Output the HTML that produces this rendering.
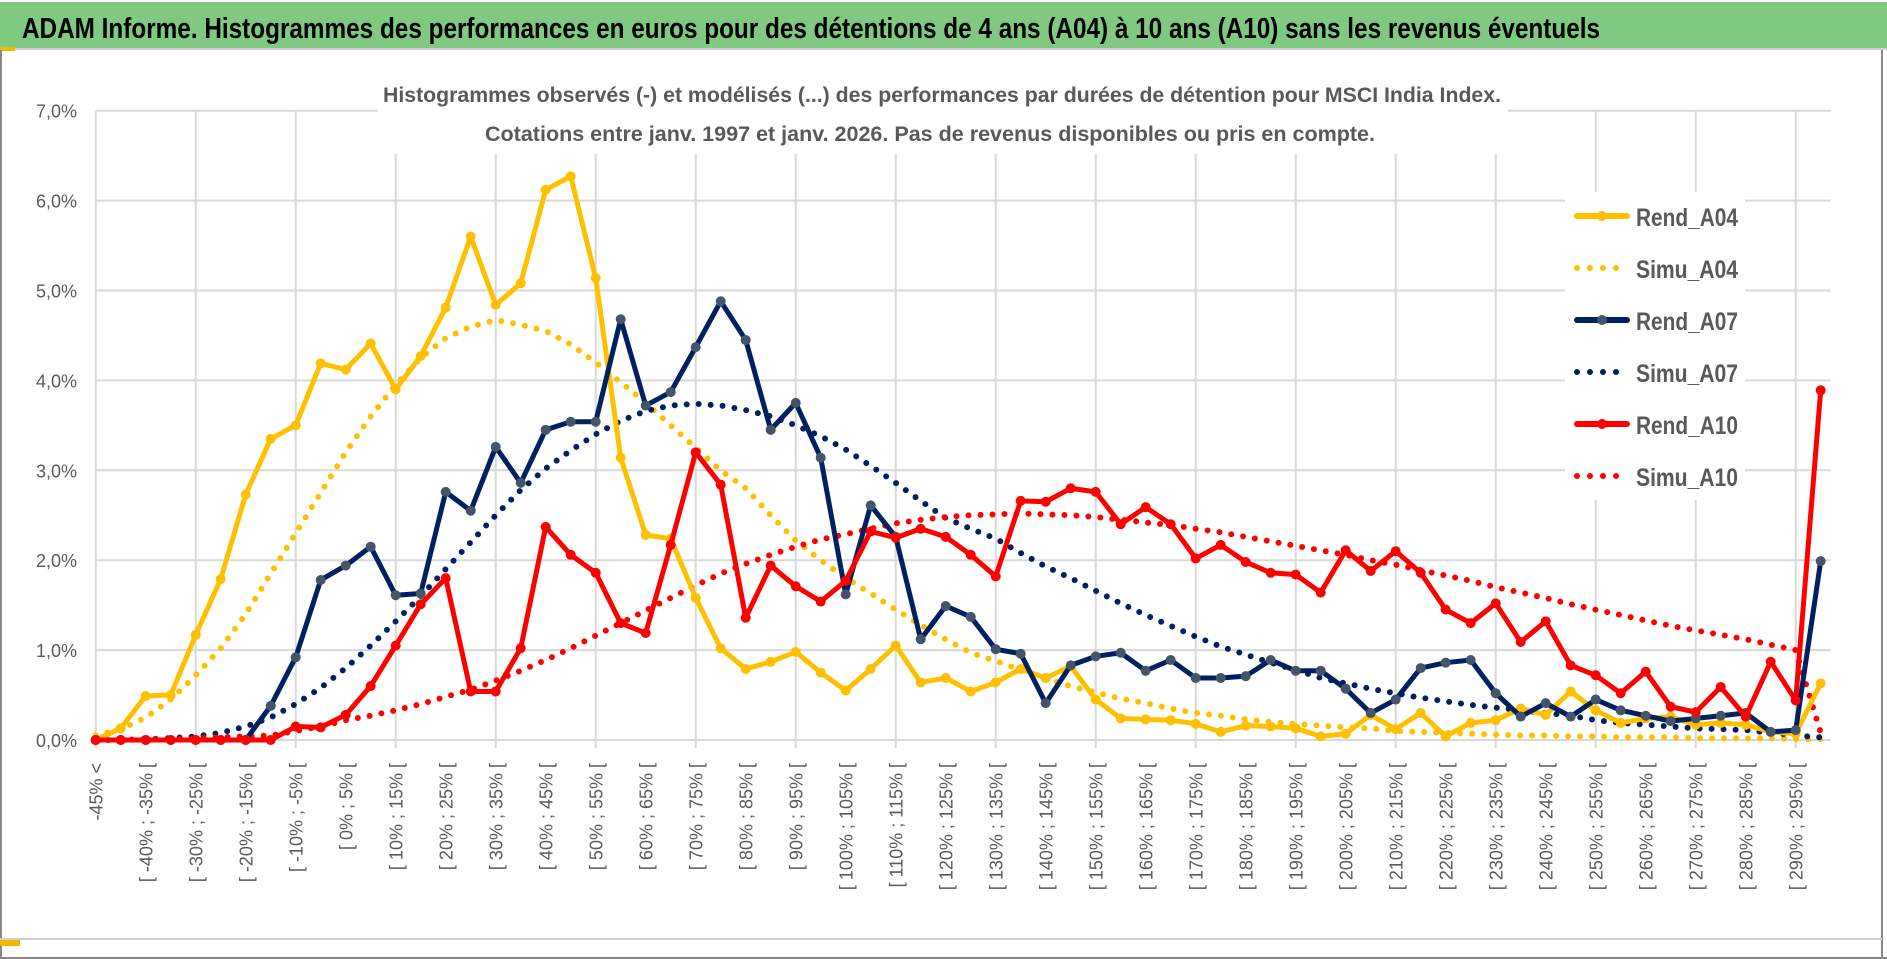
<!DOCTYPE html>
<html><head><meta charset="utf-8"><style>
html,body{margin:0;padding:0;background:#fff;}
svg{display:block;font-family:"Liberation Sans",sans-serif;}
</style></head><body>
<svg id="chart" width="1887" height="959" viewBox="0 0 1887 959" xmlns="http://www.w3.org/2000/svg">
<rect x="0" y="0" width="1887" height="959" fill="#fff"/>
<rect x="0" y="2" width="1887" height="46" fill="#80c980"/>
<line x1="0" y1="49" x2="1887" y2="49" stroke="#d0d0d0" stroke-width="2"/>
<rect x="0" y="47" width="15" height="4" fill="#f5b800"/>
<text x="22" y="38" font-size="29" font-weight="bold" fill="#000" textLength="1578" lengthAdjust="spacingAndGlyphs">ADAM Informe. Histogrammes des performances en euros pour des détentions de 4 ans (A04) à 10 ans (A10) sans les revenus éventuels</text>
<rect x="0" y="50" width="2" height="909" fill="#888"/>
<rect x="1881" y="50" width="2" height="909" fill="#888"/>
<line x1="0" y1="939" x2="1882" y2="939" stroke="#d0d0d0" stroke-width="2"/>
<rect x="0" y="940" width="20" height="6" fill="#f5b800"/>
<rect x="0" y="957" width="1887" height="2" fill="#888"/>
<g id="grid"></g>
<g id="yticks"></g>
<g id="xticks"></g>
<rect x="378" y="76" width="1130" height="78" fill="#fff"/>
<text x="942" y="102" font-size="21" font-weight="bold" fill="#595959" text-anchor="middle" textLength="1118" lengthAdjust="spacingAndGlyphs">Histogrammes observés (-) et modélisés (...) des performances par durées de détention pour MSCI India Index.</text>
<text x="930" y="141" font-size="21" font-weight="bold" fill="#595959" text-anchor="middle" textLength="890" lengthAdjust="spacingAndGlyphs">Cotations entre janv. 1997 et janv. 2026. Pas de revenus disponibles ou pris en compte.</text>
<rect x="1565" y="192" width="180" height="308" fill="#fff"/>
<g id="series"></g>
<g id="legend"></g>
</svg>
<script>
const categories = (function(){const a=["-45% <"];for(let k=1;k<70;k++){a.push("[ "+(-50+5*k)+"% ; "+(-45+5*k)+"% [");}return a;})();
const yTickValues = [0,1,2,3,4,5,6,7];
const yTickLabels = ["0,0%","1,0%","2,0%","3,0%","4,0%","5,0%","6,0%","7,0%"];
const rendA04 = [0,0.13,0.49,0.5,1.17,1.79,2.73,3.35,3.5,4.19,4.12,4.41,3.9,4.27,4.81,5.6,4.84,5.08,6.12,6.27,5.14,3.14,2.28,2.24,1.58,1.02,0.79,0.87,0.98,0.75,0.55,0.79,1.05,0.64,0.69,0.54,0.64,0.79,0.69,0.82,0.45,0.24,0.23,0.22,0.18,0.09,0.16,0.15,0.13,0.04,0.07,0.28,0.12,0.3,0.04,0.19,0.22,0.35,0.28,0.54,0.33,0.19,0.24,0.26,0.17,0.19,0.17,0.09,0.07,0.63];
const simuA04 = [0.05,0.12,0.25,0.45,0.72,1.02,1.4,1.85,2.3,2.75,3.2,3.6,3.95,4.25,4.47,4.6,4.67,4.62,4.55,4.4,4.2,3.98,3.75,3.5,3.25,3.0,2.8,2.5,2.22,2.0,1.8,1.63,1.45,1.28,1.12,0.97,0.88,0.78,0.68,0.6,0.53,0.46,0.41,0.35,0.3,0.27,0.23,0.2,0.18,0.16,0.14,0.13,0.1,0.09,0.08,0.07,0.06,0.05,0.05,0.04,0.04,0.03,0.03,0.03,0.02,0.02,0.02,0.02,0.01,0.01];
const rendA07 = [0,0,0,0,0,0,0,0.38,0.92,1.78,1.94,2.15,1.61,1.63,2.76,2.55,3.26,2.86,3.45,3.54,3.54,4.68,3.72,3.87,4.37,4.88,4.45,3.45,3.75,3.14,1.62,2.61,2.26,1.12,1.49,1.37,1.01,0.96,0.41,0.83,0.93,0.97,0.77,0.89,0.69,0.69,0.71,0.89,0.77,0.77,0.57,0.3,0.45,0.8,0.86,0.89,0.52,0.26,0.41,0.26,0.45,0.33,0.27,0.21,0.24,0.27,0.3,0.09,0.11,1.99];
const simuA07 = [0,0,0.01,0.02,0.04,0.08,0.15,0.25,0.4,0.58,0.8,1.05,1.32,1.6,1.9,2.2,2.5,2.78,3.02,3.22,3.4,3.55,3.66,3.72,3.74,3.72,3.67,3.6,3.5,3.38,3.23,3.05,2.86,2.66,2.47,2.35,2.24,2.08,1.93,1.8,1.66,1.52,1.39,1.27,1.15,1.04,0.95,0.86,0.78,0.69,0.63,0.57,0.52,0.47,0.43,0.39,0.36,0.33,0.3,0.27,0.22,0.19,0.17,0.15,0.13,0.12,0.11,0.08,0.05,0.03];
const rendA10 = [0,0,0,0,0,0,0,0,0.15,0.14,0.28,0.6,1.05,1.51,1.8,0.54,0.54,1.02,2.37,2.06,1.86,1.3,1.19,2.17,3.2,2.84,1.36,1.94,1.71,1.54,1.77,2.32,2.25,2.35,2.26,2.06,1.82,2.66,2.65,2.8,2.76,2.4,2.59,2.4,2.02,2.17,1.98,1.86,1.84,1.64,2.11,1.88,2.1,1.86,1.45,1.3,1.52,1.09,1.32,0.83,0.72,0.52,0.76,0.37,0.31,0.59,0.26,0.87,0.44,3.89];
const simuA10 = [0,0,0.01,0.01,0.02,0.03,0.04,0.05,0.1,0.15,0.22,0.27,0.33,0.4,0.48,0.56,0.66,0.77,0.89,1.02,1.16,1.3,1.44,1.58,1.72,1.85,1.96,2.06,2.15,2.23,2.29,2.35,2.41,2.45,2.48,2.5,2.51,2.52,2.51,2.5,2.48,2.45,2.42,2.39,2.35,2.31,2.26,2.21,2.16,2.11,2.06,2.0,1.95,1.89,1.83,1.77,1.7,1.64,1.58,1.51,1.45,1.39,1.33,1.27,1.22,1.17,1.12,1.06,1.0,0.08];

const NS="http://www.w3.org/2000/svg";
const X0=95.7, DX=25, Y0=740, DY=89.9;
function xS(i){return X0+DX*i;}
function yS(v){return Y0-DY*v;}
function mk(tag,parent){const e=document.createElementNS(NS,tag);parent.appendChild(e);return e;}

const grid=document.getElementById('grid');
yTickValues.forEach(function(v,i){
  const l=mk('line',grid);
  
  
  l.setAttribute('x1',xS(0));l.setAttribute('x2',xS(69)+10);
  l.setAttribute('y1',yS(v));l.setAttribute('y2',yS(v));
  l.setAttribute('stroke','#d9d9d9');l.setAttribute('stroke-width','2');
  const t=mk('text',document.getElementById('yticks'));
  
  
  t.setAttribute('x',77);t.setAttribute('y',yS(v)+7);
  t.setAttribute('text-anchor','end');t.setAttribute('font-size','18');t.setAttribute('fill','#595959');
  t.textContent=yTickLabels[i];
});
for(let k=0;k<categories.length;k+=4){
  const l=mk('line',grid);
  
  
  l.setAttribute('x1',xS(k));l.setAttribute('x2',xS(k));
  l.setAttribute('y1',yS(7));l.setAttribute('y2',Y0+8);
  l.setAttribute('stroke','#d9d9d9');l.setAttribute('stroke-width','2');
}
const xt=document.getElementById('xticks');
for(let k=0;k<categories.length;k+=2){
  const t=mk('text',xt);
  
  
  const x=xS(k)+7, y=763;
  t.setAttribute('x',x);t.setAttribute('y',y);
  t.setAttribute('transform','rotate(-90 '+x+' '+y+')');
  t.setAttribute('text-anchor','end');t.setAttribute('font-size','18');t.setAttribute('fill','#595959');
  t.textContent=categories[k];
}
const series=document.getElementById('series');
function pts(arr){return arr.map(function(v,i){return xS(i)+','+yS(v);}).join(' ');}
function simu(arr,color,name){
  const p=mk('polyline',series);
  
  
  p.setAttribute('points',pts(arr));p.setAttribute('fill','none');
  p.setAttribute('stroke',color);p.setAttribute('stroke-width','6');
  p.setAttribute('stroke-linecap','round');p.setAttribute('stroke-dasharray','0 12');
}
function rend(arr,color,mcolor,name){
  const g=mk('g',series);
  
  
  const p=mk('polyline',g);
  p.setAttribute('points',pts(arr));p.setAttribute('fill','none');
  p.setAttribute('stroke',color);p.setAttribute('stroke-width','5');p.setAttribute('stroke-linejoin','round');
  arr.forEach(function(v,i){
    const c=mk('circle',g);
    
    
    c.setAttribute('cx',xS(i));c.setAttribute('cy',yS(v));c.setAttribute('r','5');c.setAttribute('fill',mcolor);
  });
}
simu(simuA04,'#ffc000','simu-a04-line');
simu(simuA07,'#002060','simu-a07-line');
simu(simuA10,'#ff0000','simu-a10-line');
rend(rendA04,'#ffc000','#ffc000','rend-a04-line');
rend(rendA07,'#002060','#44546a','rend-a07-line');
rend(rendA10,'#ff0000','#ff0000','rend-a10-line');

const legendItems=[['Rend_A04','#ffc000',false],['Simu_A04','#ffc000',true],['Rend_A07','#002060',false],['Simu_A07','#002060',true],['Rend_A10','#ff0000',false],['Simu_A10','#ff0000',true]];
const lg=document.getElementById('legend');
legendItems.forEach(function(it,i){
  const y=216+52*i;
  const g=mk('g',lg);
  
  
  const l=mk('line',g);
  l.setAttribute('x1',1577);l.setAttribute('x2',1627);l.setAttribute('y1',y);l.setAttribute('y2',y);
  l.setAttribute('stroke',it[1]);l.setAttribute('stroke-linecap','round');
  if(it[2]){l.setAttribute('stroke-width','6');l.setAttribute('stroke-dasharray','0 13');}
  else{l.setAttribute('stroke-width','6');
    const c=mk('circle',g);c.setAttribute('cx',1602);c.setAttribute('cy',y);c.setAttribute('r','5');
    c.setAttribute('fill',it[0]==='Rend_A07'?'#44546a':it[1]);}
  const t=mk('text',g);
  t.setAttribute('x',1636);t.setAttribute('y',y+10);t.setAttribute('font-size','25');
  t.setAttribute('font-weight','bold');t.setAttribute('fill','#595959');
  t.setAttribute('textLength','102');t.setAttribute('lengthAdjust','spacingAndGlyphs');
  t.textContent=it[0];
});
</script>
</body></html>
